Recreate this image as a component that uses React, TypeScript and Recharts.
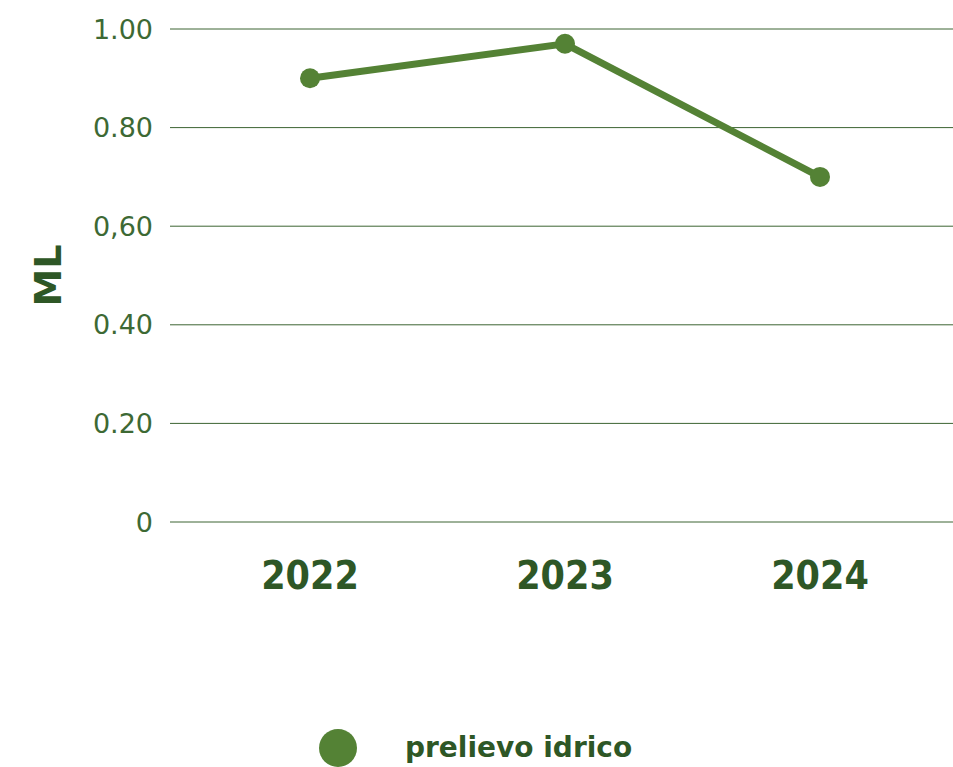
import React from 'react';
import { LineChart, Line, XAxis, YAxis, CartesianGrid, Legend } from 'recharts';

const years = ['2022', '2023', '2024'];
const prelievo = [0.9, 0.97, 0.7];
const yTicks = [0, 0.2, 0.4, 0.6, 0.8, 1];
const yTickLabels = ['0', '0.20', '0.40', '0,60', '0.80', '1.00'];

const data = years.map((year, i) => ({ year, value: prelievo[i] }));

const lineColor = '#548235';
const darkGreen = '#2e5726';
const tickColor = '#3d6934';

const LegendContent = () => (
  <div style={{ position: 'relative', width: 953, height: 42 }}>
    <div
      style={{
        position: 'absolute',
        left: 319,
        top: 4,
        width: 38,
        height: 38,
        borderRadius: '50%',
        background: lineColor,
      }}
    />
    <div
      style={{
        position: 'absolute',
        left: 405,
        top: 4,
        height: 38,
        lineHeight: '38px',
        fontFamily: '"DejaVu Sans", sans-serif',
        fontWeight: 'bold',
        fontSize: 28,
        color: darkGreen,
        whiteSpace: 'nowrap',
      }}
    >
      prelievo idrico
    </div>
  </div>
);

export default function App() {
  return (
    <div>
      <style>{'body { margin: 0; }'}</style>
      <LineChart
        width={953}
        height={767}
        data={data}
        margin={{ top: 29, right: 0, left: 0, bottom: 173 }}
      >
        <CartesianGrid vertical={false} stroke="#3c6432" strokeWidth={1} />
        <XAxis
          dataKey="year"
          height={30}
          axisLine={false}
          tickLine={false}
          tickMargin={33}
          padding={{ left: 140, right: 133 }}
          tick={{
            fontSize: 39,
            fontFamily: '"DejaVu Sans Condensed", "DejaVu Sans", sans-serif',
            fontWeight: 'bold',
            fill: darkGreen,
          }}
        />
        <YAxis
          width={170}
          domain={[0, 1]}
          ticks={yTicks}
          axisLine={false}
          tickLine={false}
          tickSize={0}
          tickMargin={17}
          tickFormatter={(v: number) => yTickLabels[yTicks.indexOf(v)] ?? String(v)}
          tick={{ fontSize: 27, fontFamily: '"DejaVu Sans", sans-serif', fill: tickColor }}
          label={{
            value: 'ML',
            angle: -90,
            position: 'center',
            dx: -37,
            style: {
              fontSize: 38,
              fontFamily: '"DejaVu Sans", sans-serif',
              fontWeight: 'bold',
              fill: darkGreen,
            },
          }}
        />
        <Line
          type="linear"
          dataKey="value"
          name="prelievo idrico"
          stroke={lineColor}
          strokeWidth={7}
          dot={{ r: 10, fill: lineColor, stroke: lineColor, strokeWidth: 0 }}
          activeDot={false}
          isAnimationActive={false}
        />
        <Legend
          height={42}
          content={<LegendContent />}
          wrapperStyle={{ left: 0, top: 725, bottom: 'auto', width: 953, height: 42 }}
        />
      </LineChart>
    </div>
  );
}
